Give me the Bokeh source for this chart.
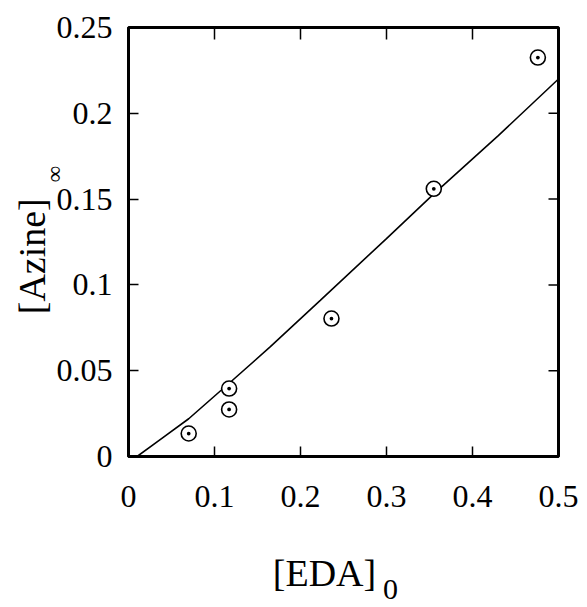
import math
from bokeh.plotting import figure
from bokeh.models import FixedTicker, Label, Range1d
from bokeh.embed import file_html
from bokeh.resources import INLINE

# data
eda0 = [0.07, 0.117, 0.117, 0.236, 0.355, 0.476]
azine_inf = [0.0134, 0.0396, 0.0274, 0.0804, 0.156, 0.2325]

fit_x = [0.01, 0.04, 0.07, 0.12, 0.165, 0.223, 0.30, 0.355, 0.43, 0.50]
fit_y = [0.0, 0.011, 0.022, 0.044, 0.064, 0.091, 0.127, 0.153, 0.187, 0.220]

x_ticks = [0, 0.1, 0.2, 0.3, 0.4, 0.5]
x_tick_labels = ["0", "0.1", "0.2", "0.3", "0.4", "0.5"]
y_ticks = [0, 0.05, 0.1, 0.15, 0.2, 0.25]
y_tick_labels = ["0", "0.05", "0.1", "0.15", "0.2", "0.25"]

FONT = "Liberation Serif"
NB = "\u00a0"

p = figure(width=587, height=607, output_backend="svg", toolbar_location=None,
           x_range=Range1d(x_ticks[0], x_ticks[-1]),
           y_range=Range1d(y_ticks[0], y_ticks[-1]),
           min_border_left=128, min_border_right=29, min_border_top=27,
           min_border_bottom=151)
p.frame_width = 430
p.frame_height = 429
p.xgrid.visible = False
p.ygrid.visible = False
p.outline_line_color = "black"
p.outline_line_width = 3
p.background_fill_color = "white"
p.border_fill_color = "white"

def style_axis(ax, ticks, labels, standoff):
    ax.ticker = FixedTicker(ticks=ticks)
    ax.major_label_overrides = {t: l for t, l in zip(ticks, labels)}
    ax.axis_line_color = "black"
    ax.axis_line_width = 3
    ax.major_tick_in = 10
    ax.major_tick_out = 0
    ax.major_tick_line_width = 1.5
    ax.major_tick_line_color = "black"
    ax.minor_tick_line_color = None
    ax.major_label_text_font = FONT
    ax.major_label_text_color = "black"
    ax.major_label_text_font_size = "32px"
    ax.major_label_standoff = standoff
    ax.axis_label_text_font = FONT
    ax.axis_label_text_font_size = "38px"
    ax.axis_label_text_font_style = "normal"
    ax.axis_label_text_color = "black"

style_axis(p.xaxis[0], x_ticks, x_tick_labels, 29)
style_axis(p.yaxis[0], y_ticks, y_tick_labels, 16)
p.xaxis[0].axis_label = "[EDA]" + NB * 4
p.xaxis[0].axis_label_standoff = 42
p.yaxis[0].axis_label = "[Azine]" + NB * 3
p.yaxis[0].axis_label_standoff = 1

# mirrored inward ticks on the top and right edges
p.ray(x=x_ticks, y=[y_ticks[-1]] * len(x_ticks), length=12, length_units="screen",
      angle=-math.pi / 2, line_color="black", line_width=1.5)
p.ray(x=[x_ticks[-1]] * len(y_ticks), y=y_ticks, length=10, length_units="screen",
      angle=math.pi, line_color="black", line_width=1.5)

p.line(fit_x, fit_y, line_color="black", line_width=1.6)
p.scatter(eda0, azine_inf, marker="circle_dot", size=15, fill_color="white",
          line_color="black", line_width=1.6)

# subscripts of the axis titles
p.add_layout(Label(x=-74.5, y=-146.5, x_units="screen", y_units="screen", text="∞",
                   angle=math.pi / 2, text_font=FONT, text_font_size="23px",
                   text_align="center", text_baseline="middle", text_color="black"),
             "above")
p.add_layout(Label(x=-168, y=-133, x_units="screen", y_units="screen", text="0",
                   text_font=FONT, text_font_size="30px",
                   text_align="center", text_baseline="middle", text_color="black"),
             "right")

open("out.html", "w").write(file_html(p, INLINE))
